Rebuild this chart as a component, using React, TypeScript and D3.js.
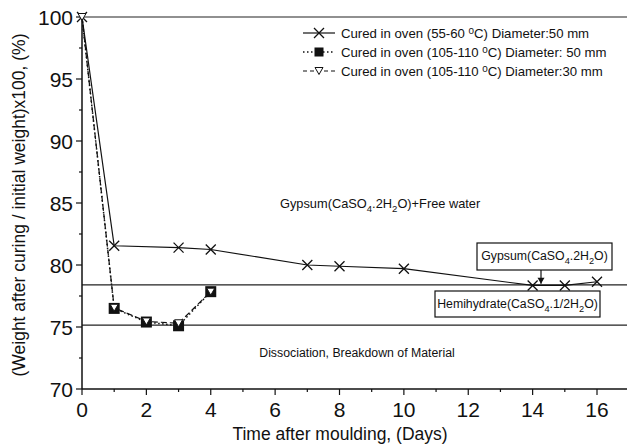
import React from "react";
import * as d3 from "d3";

const days1 = [0, 1, 3, 4, 7, 8, 10, 14, 15, 16];
const vals1 = [100, 81.55, 81.4, 81.25, 80.0, 79.9, 79.7, 78.35, 78.35, 78.65];
const days2 = [0, 1, 2, 3, 4];
const vals2 = [100, 76.5, 75.4, 75.1, 77.85];
const days3 = [0, 1, 2, 3, 4];
const vals3 = [100, 76.55, 75.45, 75.3, 77.85];
const xTicks = [0, 2, 4, 6, 8, 10, 12, 14, 16];
const yTicks = [70, 75, 80, 85, 90, 95, 100];
const refLines = [100, 78.4, 75.15];
const legendLabels = [
  "Cured in oven (55-60 ºC) Diameter:50 mm",
  "Cured in oven (105-110 ºC) Diameter: 50 mm",
  "Cured in oven (105-110 ºC) Diameter:30 mm",
];

const W = 627;
const H = 447;
const FONT = "'Liberation Sans', Arial, sans-serif";

export default function App() {
  const x = d3.scaleLinear().domain([0, 16]).range([82, 597]);
  const y = d3.scaleLinear().domain([70, 100]).range([389, 17]);
  const line = d3
    .line<[number, number]>()
    .x((d) => x(d[0]))
    .y((d) => y(d[1]));
  const s1 = days1.map((d, i) => [d, vals1[i]] as [number, number]);
  const s2 = days2.map((d, i) => [d, vals2[i]] as [number, number]);
  const s3 = days3.map((d, i) => [d, vals3[i]] as [number, number]);

  const xMark = (cx: number, cy: number, k: string, r = 5) => (
    <path
      key={k}
      d={`M${cx - r},${cy - r}L${cx + r},${cy + r}M${cx - r},${cy + r}L${cx + r},${cy - r}`}
      stroke="#111"
      strokeWidth={1.3}
      fill="none"
    />
  );
  const sqMark = (cx: number, cy: number, k: string, r = 5.5) => (
    <rect key={k} x={cx - r} y={cy - r} width={2 * r} height={2 * r} fill="#111" />
  );
  const triMark = (cx: number, cy: number, k: string, r = 5, fill = "#fff") => (
    <path
      key={k}
      d={`M${cx - r * 0.8},${cy - r * 0.7}L${cx + r * 0.8},${cy - r * 0.7}L${cx},${cy + r * 0.7}Z`}
      fill={fill}
      stroke="#111"
      strokeWidth={1}
    />
  );

  const minorX = d3.range(0, 18, 1);
  const minorY = d3.range(70, 100.1, 2.5);

  const sub = (t: string) => (
    <tspan dy={4} fontSize="0.75em">
      {t}
    </tspan>
  );

  const lx = 303;
  const ly = [33, 52, 71];

  return (
    <svg width={W} height={H} style={{ display: "block", position: "absolute", left: 0, top: 0 }} fontFamily={FONT}>
      <rect width={W} height={H} fill="#fff" />
      {/* reference lines */}
      {refLines.map((v, i) => (
        <line key={"r" + i} x1={x(0)} x2={W} y1={y(v)} y2={y(v)} stroke="#222" strokeWidth={1.2} />
      ))}
      {/* axes */}
      <line x1={x(0)} x2={W} y1={y(70)} y2={y(70)} stroke="#111" strokeWidth={1.5} />
      <line x1={x(0)} x2={x(0)} y1={y(70)} y2={y(100)} stroke="#111" strokeWidth={1.5} />
      {minorX.map((d) => (
        <line key={"mx" + d} x1={x(d)} x2={x(d)} y1={y(70)} y2={y(70) + (d % 2 === 0 ? 6 : 3)} stroke="#111" strokeWidth={1.2} />
      ))}
      {minorY.map((v) => (
        <line key={"my" + v} x1={x(0)} x2={x(0) - (v % 5 === 0 ? 6 : 3)} y1={y(v)} y2={y(v)} stroke="#111" strokeWidth={1.2} />
      ))}
      {xTicks.map((d) => (
        <text key={"xt" + d} x={x(d)} y={y(70) + 28} textAnchor="middle" fontSize={21} fill="#111">
          {d}
        </text>
      ))}
      {yTicks.map((v) => (
        <text key={"yt" + v} x={x(0) - 9} y={y(v) + 7.5} textAnchor="end" fontSize={21} fill="#111">
          {v}
        </text>
      ))}
      <text x={340} y={440} textAnchor="middle" fontSize={17.5} fill="#111">
        Time after moulding, (Days)
      </text>
      <text transform={`translate(25,${(y(70) + y(100)) / 2 + 2}) rotate(-90)`} textAnchor="middle" fontSize={17.5} fill="#111">
        (Weight after curing / initial weight)x100, (%)
      </text>

      {/* series */}
      <path d={line(s1) || ""} fill="none" stroke="#111" strokeWidth={1.2} />
      <path d={line(s2) || ""} fill="none" stroke="#111" strokeWidth={1.5} strokeDasharray="1.5,2.5" />
      <path d={line(s3) || ""} fill="none" stroke="#111" strokeWidth={1.2} strokeDasharray="6,3" />
      {s1.map((d, i) => xMark(x(d[0]), y(d[1]), "x" + i))}
      {s2.map((d, i) => (i === 0 ? null : sqMark(x(d[0]), y(d[1]), "s" + i)))}
      {s3.map((d, i) => triMark(x(d[0]), y(d[1]), "t" + i))}

      {/* annotations */}
      <text x={280} y={208} fontSize={12.8} fill="#111">
        Gypsum(CaSO{sub("4")}
        <tspan dy={-4}>.2H</tspan>
        {sub("2")}
        <tspan dy={-4}>O)+Free water</tspan>
      </text>
      <rect x={477} y={243} width={135} height={27} fill="#fff" stroke="#111" strokeWidth={1.2} />
      <text x={544.5} y={260} textAnchor="middle" fontSize={12.3} fill="#111">
        Gypsum(CaSO{sub("4")}
        <tspan dy={-4}>.2H</tspan>
        {sub("2")}
        <tspan dy={-4}>O)</tspan>
      </text>
      <line x1={541} x2={541} y1={270} y2={y(78.4) - 1} stroke="#111" strokeWidth={1.2} />
      <path d={`M537.5,${y(78.4) - 7}L544.5,${y(78.4) - 7}L541,${y(78.4) - 1}Z`} fill="#111" />
      <rect x={435} y={291} width={165} height={26} fill="#fff" stroke="#111" strokeWidth={1.2} />
      <text x={517.5} y={308} textAnchor="middle" fontSize={12.3} fill="#111">
        Hemihydrate(CaSO{sub("4")}
        <tspan dy={-4}>.1/2H</tspan>
        {sub("2")}
        <tspan dy={-4}>O)</tspan>
      </text>
      <text x={357} y={357} textAnchor="middle" fontSize={12.3} fill="#111">
        Dissociation, Breakdown of Material
      </text>

      {/* legend */}
      {ly.map((yy, i) => (
        <g key={"lg" + i}>
          <line
            x1={lx}
            x2={lx + 32}
            y1={yy}
            y2={yy}
            stroke="#111"
            strokeWidth={i === 1 ? 1.5 : 1.2}
            strokeDasharray={i === 0 ? undefined : i === 1 ? "1.5,2.5" : "4,3"}
          />
          {i === 0 ? xMark(lx + 16, yy, "lx", 5) : i === 1 ? sqMark(lx + 16, yy, "ls", 4.5) : triMark(lx + 16, yy, "lt", 5)}
          <text x={lx + 38} y={yy + 4.5} fontSize={13.2} fill="#111">
            {legendLabels[i].split("º").length > 1 ? (
              <>
                {legendLabels[i].split("º")[0]}
                <tspan dy={-4} fontSize="0.75em">0</tspan>
                <tspan dy={4}>{"C" + legendLabels[i].split("ºC")[1]}</tspan>
              </>
            ) : (
              legendLabels[i]
            )}
          </text>
        </g>
      ))}
    </svg>
  );
}
